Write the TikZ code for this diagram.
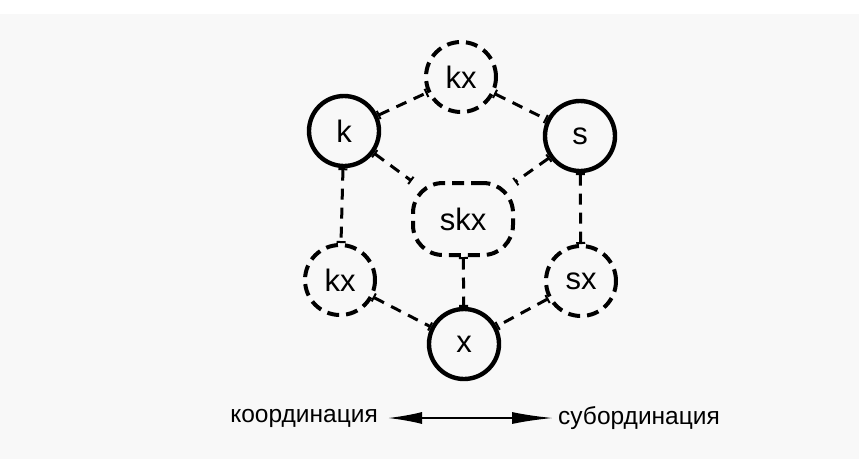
\documentclass[tikz,border=0pt]{standalone}
\usepackage{fontspec}
\setmainfont{Liberation Sans}
\usetikzlibrary{arrows.meta}
\definecolor{paper}{RGB}{248,248,248}
\tikzset{
  x=1pt,y=-1pt,
  solidnode/.style={circle,draw=black,line width=4.4pt,minimum size=70pt,inner sep=0pt,font=\fontsize{31}{33}\selectfont},
  dashnode/.style={circle,draw=black,line width=4pt,dash pattern=on 12pt off 7pt,minimum size=70pt,inner sep=0pt,font=\fontsize{31}{33}\selectfont},
  link/.style={draw=black,line width=3pt,dash pattern=on 11pt off 8pt,
    {Bar[width=9pt,line width=2pt]}-{Bar[width=9pt,line width=2pt]}},
  lbl/.style={font=\fontsize{24.5}{26}\selectfont,inner sep=0pt}
}
\begin{document}
\begin{tikzpicture}
\useasboundingbox (0,0) rectangle (859,459);
\fill[white] (0,0) rectangle (859,459);
\fill[paper] (0,14) rectangle (859,459);
\node[dashnode] (kxt) at (461,77) {kx};
\node[solidnode] (k) at (344,131) {k};
\node[solidnode] (s) at (580,136) {s};
\node[dashnode,rectangle,minimum width=100pt,minimum height=72pt,rounded corners=30pt] (skx) at (463,219) {skx};
\node[dashnode] (kxl) at (340,280) {kx};
\node[dashnode] (sx) at (581,281) {sx};
\node[solidnode] (x) at (464,344) {x};
\draw[link] (k) -- (kxt);
\draw[link] (kxt) -- (s);
\draw[link] (k) -- (skx);
\draw[link] (s) -- (skx);
\draw[link] (k) -- (kxl);
\draw[link] (s) -- (sx);
\draw[link] (skx) -- (x);
\draw[link] (kxl) -- (x);
\draw[link] (sx) -- (x);
\node[lbl,anchor=east] (coord) at (378,418) {координация};
\node[lbl,anchor=west] (subord) at (558,418) {субординация};
\draw[line width=1.8pt,{Latex[length=34pt,width=12pt]}-{Latex[length=41pt,width=12pt]}] ([xshift=10pt]coord.east) -- ([xshift=-5pt]subord.west);
\end{tikzpicture}
\end{document}
